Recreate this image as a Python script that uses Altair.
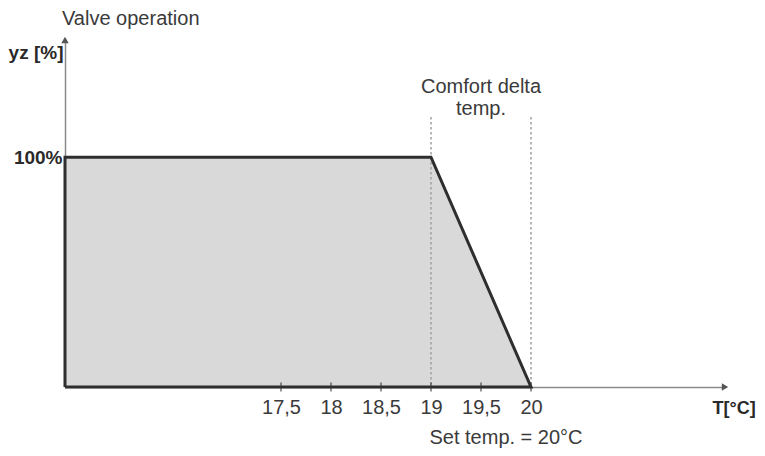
import altair as alt
import pandas as pd

# ---- data ----
x_min, x_max = 15.34, 21.94          # temperature axis extent
y_max = 151                          # valve axis extent (%)
tick_values = [17.5, 18, 18.5, 19, 19.5, 20]
area_t = [15.34, 19, 20]
area_yz = [100, 100, 0]
outline_t = [15.34, 15.34, 19, 20, 15.34]
outline_yz = [0, 100, 100, 0, 0]
comfort_t = [19, 20]
comfort_top = [117.5, 117.5]
set_temp = 20

FONT = "Liberation Sans"

xs = alt.Scale(domain=[x_min, x_max], nice=False, zero=False)
ys = alt.Scale(domain=[0, y_max], nice=False, zero=False)

area_df = pd.DataFrame({"t": area_t, "yz": area_yz})
outline_df = pd.DataFrame({"t": outline_t, "yz": outline_yz, "o": list(range(len(outline_t)))})
comfort_df = pd.DataFrame({"t": comfort_t, "top": comfort_top})
ticks_df = pd.DataFrame({"t": tick_values, "yz": [0] * len(tick_values)})
arrows_df = pd.DataFrame({"t": [x_max, x_min], "yz": [0, y_max], "shape": ["triangle-right", "triangle-up"]})
ctext_df = pd.DataFrame({"t": [19.5], "yz": [comfort_top[0]]})
stext_df = pd.DataFrame({"t": [set_temp], "yz": [0]})
title_df = pd.DataFrame({"t": [x_min], "yz": [y_max]})

x_axis = alt.Axis(
    values=tick_values,
    labelExpr="replace(toString(datum.value), '.', ',')",
    ticks=False, grid=False,
    domainColor="#8a8a8a", domainWidth=1.5,
    labelFont=FONT, labelFontSize=20, labelColor="#3a3a3a", labelPadding=10,
    title="T[°C]", titleFont=FONT, titleFontSize=18, titleFontWeight="bold",
    titleColor="#2a2a2a", titleX=647, titleY=26, titleAlign="left",
    titleBaseline="alphabetic", titleAnchor="start",
)
y_axis = alt.Axis(
    values=[100], labelExpr="datum.value + '%'",
    ticks=False, grid=False,
    domainColor="#8a8a8a", domainWidth=1.5,
    labelFont=FONT, labelFontSize=19, labelFontWeight="bold", labelColor="#2a2a2a",
    labelPadding=3,
    title="yz [%]", titleFont=FONT, titleFontSize=19, titleFontWeight="bold",
    titleColor="#2a2a2a", titleAngle=0, titleX=-2, titleY=18, titleAlign="right",
    titleBaseline="alphabetic",
)

area = alt.Chart(area_df).mark_area(color="#d9d9d9", opacity=1).encode(
    x=alt.X("t:Q", scale=xs, axis=x_axis),
    y=alt.Y("yz:Q", scale=ys, axis=y_axis),
)

dashes = alt.Chart(comfort_df).mark_rule(color="#a0a0a0", strokeWidth=1.5, strokeDash=[2.5, 2.5]).encode(
    x=alt.X("t:Q", scale=xs),
    y=alt.Y("top:Q", scale=ys),
    y2=alt.datum(0),
)

outline = alt.Chart(outline_df).mark_line(color="#2e2e2e", strokeWidth=3, strokeJoin="miter").encode(
    x=alt.X("t:Q", scale=xs),
    y=alt.Y("yz:Q", scale=ys),
    order="o:Q",
)

ticks = alt.Chart(ticks_df).mark_tick(color="#333333", thickness=1.5, size=9, orient="vertical").encode(
    x=alt.X("t:Q", scale=xs),
    y=alt.Y("yz:Q", scale=ys),
)

arrows = alt.Chart(arrows_df).mark_point(filled=True, color="#555555", size=55, opacity=1).encode(
    x=alt.X("t:Q", scale=xs),
    y=alt.Y("yz:Q", scale=ys),
    shape=alt.Shape("shape:N", scale=None),
)

ctext = alt.Chart(ctext_df).mark_text(
    text=["Comfort delta", "temp."], font=FONT, fontSize=20, color="#3a3a3a",
    align="center", baseline="alphabetic", lineHeight=22, dy=-24,
).encode(x=alt.X("t:Q", scale=xs), y=alt.Y("yz:Q", scale=ys))

stext = alt.Chart(stext_df).mark_text(
    text="Set temp. = 20°C", font=FONT, fontSize=20, color="#3a3a3a",
    align="center", baseline="alphabetic", dx=-25, dy=57,
).encode(x=alt.X("t:Q", scale=xs), y=alt.Y("yz:Q", scale=ys))

title = alt.Chart(title_df).mark_text(
    text="Valve operation", font=FONT, fontSize=20, color="#3a3a3a",
    align="left", baseline="alphabetic", dx=-3, dy=-15,
).encode(x=alt.X("t:Q", scale=xs), y=alt.Y("yz:Q", scale=ys))

chart = alt.layer(area, dashes, outline, ticks, arrows, ctext, stext, title).properties(
    width=660, height=347,
    background="white",
    autosize=alt.AutoSizeParams(type="none"),
    padding={"left": 57, "top": 32, "right": 32, "bottom": 61},
).configure_view(strokeWidth=0)

chart.save("out.html", embed_options={"renderer": "svg", "actions": False})
